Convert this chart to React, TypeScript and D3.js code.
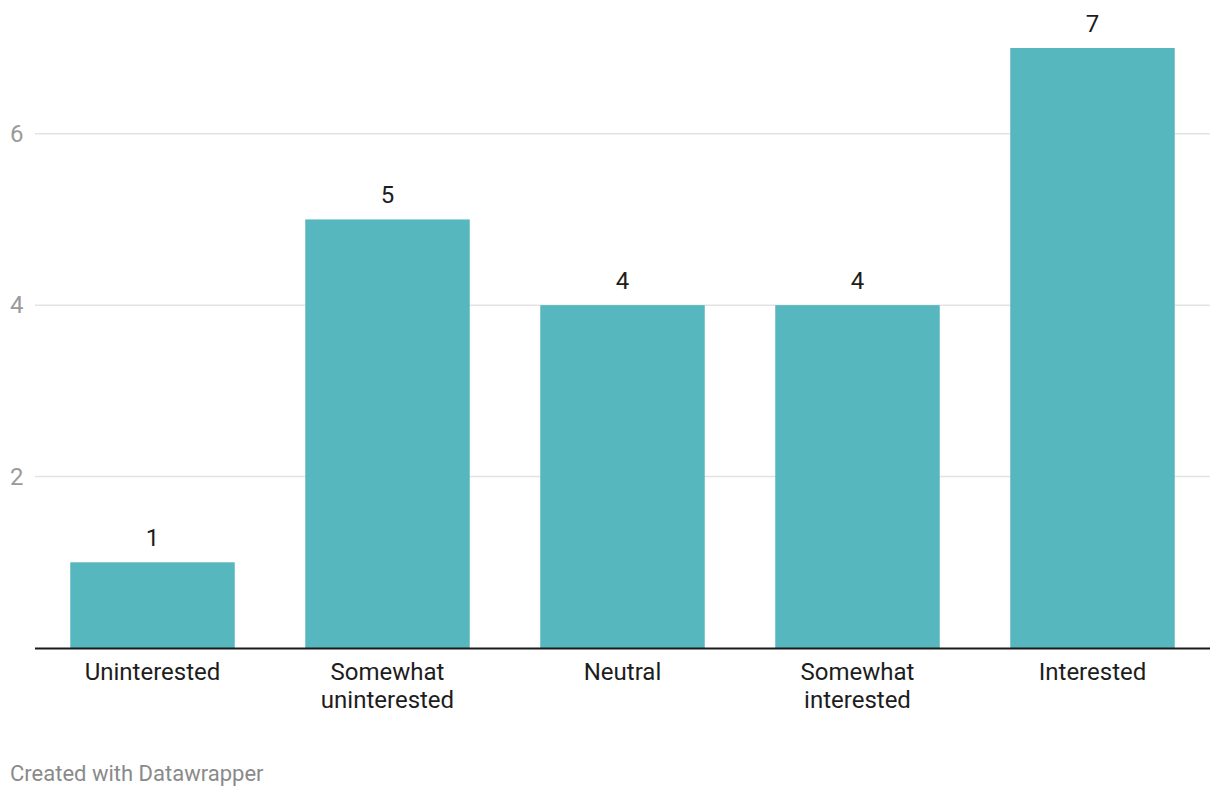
import { useEffect, useRef } from 'react'
import * as d3 from 'd3'

const CATEGORIES = ['Uninterested', 'Somewhat uninterested', 'Neutral', 'Somewhat interested', 'Interested']
const LABEL_LINES = [['Uninterested'], ['Somewhat', 'uninterested'], ['Neutral'], ['Somewhat', 'interested'], ['Interested']]
const VALUES = [1, 5, 4, 4, 7]
const Y_TICKS = [2, 4, 6]

const W = 1220
const H = 796
const FONT = 'Roboto, "Noto Sans", sans-serif'

export default function App() {
  const svgRef = useRef<SVGSVGElement>(null)

  useEffect(() => {
    document.body.style.margin = '0'
    if (!svgRef.current) return

    const margin = { top: 48, right: 10, bottom: 148, left: 35 }
    const svg = d3.select(svgRef.current)
    svg.selectAll('*').remove()

    const x = d3.scaleBand<string>()
      .domain(CATEGORIES)
      .range([margin.left, W - margin.right])
      .paddingInner(0.3)
      .paddingOuter(0.15)

    const y = d3.scaleLinear().domain([0, 7]).range([H - margin.bottom, margin.top])

    // grid + tick labels
    Y_TICKS.forEach(t => {
      svg.append('line')
        .attr('x1', margin.left).attr('x2', W - margin.right)
        .attr('y1', y(t)).attr('y2', y(t))
        .attr('stroke', '#e3e3e3').attr('stroke-width', 1.5)
      svg.append('text')
        .attr('x', 10).attr('y', y(t))
        .attr('dominant-baseline', 'central')
        .attr('fill', '#9a9a9a').attr('font-size', '24px').attr('font-family', FONT)
        .text(t)
    })

    // bars
    CATEGORIES.forEach((c, i) => {
      const v = VALUES[i]
      svg.append('rect')
        .attr('x', x(c)!).attr('y', y(v))
        .attr('width', x.bandwidth()).attr('height', y(0) - y(v))
        .attr('fill', '#57b7bf')
      svg.append('text')
        .attr('x', x(c)! + x.bandwidth() / 2).attr('y', y(v) - 24)
        .attr('text-anchor', 'middle').attr('dominant-baseline', 'central')
        .attr('fill', '#1d1d1d').attr('font-size', '24px').attr('font-family', FONT)
        .text(v)

      const label = svg.append('text')
        .attr('text-anchor', 'middle')
        .attr('fill', '#1d1d1d').attr('font-size', '24px').attr('font-family', FONT)
      LABEL_LINES[i].forEach((ln, j) => {
        label.append('tspan')
          .attr('x', x(c)! + x.bandwidth() / 2)
          .attr('y', y(0) + 24 + j * 28)
          .attr('dominant-baseline', 'central')
          .text(ln)
      })
    })

    // baseline
    svg.append('line')
      .attr('x1', margin.left).attr('x2', W - margin.right)
      .attr('y1', y(0) + 0.5).attr('y2', y(0) + 0.5)
      .attr('stroke', '#1a1a1a').attr('stroke-width', 2)

    svg.append('text')
      .attr('x', 10).attr('y', 773)
      .attr('dominant-baseline', 'central')
      .attr('fill', '#8a8a8a').attr('font-size', '22px').attr('font-family', FONT)
      .text('Created with Datawrapper')
  }, [])

  return <svg ref={svgRef} width={W} height={H} style={{ display: 'block', background: '#fff' }} />
}
